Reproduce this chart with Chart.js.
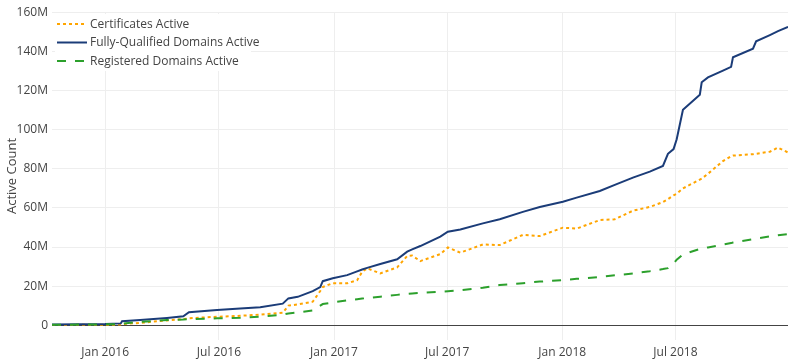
<!DOCTYPE html>
<html>
<head>
<meta charset="utf-8">
<title>Active Count</title>
<script src="https://cdn.jsdelivr.net/npm/chart.js@4.4.1/dist/chart.umd.min.js"></script>
<style>
    html, body { margin: 0; padding: 0; background: #fff; }
    #wrap { width: 800px; height: 363px; position: relative; }
</style>
</head>
<body>
<div id="wrap"><canvas id="activeChart"></canvas></div>
<script>
const dates = [
    '2015-10-08', '2016-01-01', '2016-01-26', '2016-01-28', '2016-02-26', '2016-04-09', '2016-05-05',
    '2016-05-14', '2016-06-28', '2016-08-04', '2016-09-05', '2016-10-11', '2016-10-20', '2016-11-04',
    '2016-11-28', '2016-12-10', '2016-12-14', '2016-12-30', '2017-01-22', '2017-02-07', '2017-02-15',
    '2017-02-23', '2017-03-16', '2017-04-12', '2017-04-28', '2017-05-06', '2017-05-19', '2017-06-20',
    '2017-07-02', '2017-07-22', '2017-08-27', '2017-09-23', '2017-10-30', '2017-11-26', '2018-01-02',
    '2018-01-24', '2018-03-02', '2018-03-26', '2018-04-24', '2018-05-21', '2018-06-11', '2018-06-19',
    '2018-06-28', '2018-07-03', '2018-07-13', '2018-08-09', '2018-08-12', '2018-08-22', '2018-09-15',
    '2018-09-28', '2018-10-01', '2018-11-02', '2018-11-07', '2018-11-29', '2018-12-12', '2018-12-28'
];

// Values in millions
const certificates = [
    0.1, 0.2, 0.3, 0.5, 1.2, 2.4, 3.1,
    3.5, 4.3, 4.8, 5.4, 6.3, 10.0, 10.6,
    12.0, 17.5, 19.5, 21.5, 21.4, 23.0, 27.3,
    29.1, 26.5, 29.6, 35.4, 35.6, 32.8, 36.4,
    39.8, 37.1, 41.3, 41.0, 46.2, 45.6, 49.9,
    49.4, 53.8, 54.2, 58.6, 60.5, 63.0, 64.5,
    66.5, 67.3, 70.0, 74.5, 75.0, 77.5, 84.0,
    86.5, 86.8, 87.5, 87.7, 88.8, 90.9, 88.4
];
const fqdns = [
    0.3, 0.6, 0.9, 2.0, 2.6, 3.7, 4.5,
    6.6, 7.8, 8.5, 9.2, 11.0, 13.7, 14.5,
    17.4, 19.5, 22.5, 24.0, 25.6, 27.5, 28.5,
    29.3, 31.3, 33.7, 37.6, 38.8, 40.5, 45.3,
    47.8, 49.0, 52.1, 54.2, 58.0, 60.5, 63.2,
    65.3, 68.7, 71.8, 75.5, 78.6, 81.5, 87.7,
    90.1, 95.2, 110.3, 118.0, 124.3, 126.8, 130.3,
    132.2, 137.1, 141.5, 145.3, 148.5, 150.5, 152.7
];
const registered = [
    0.2, 0.4, 0.5, 0.8, 1.7, 2.6, 2.9,
    3.1, 3.5, 3.8, 4.4, 5.4, 6.0, 6.5,
    7.5, 10.0, 10.8, 11.6, 12.7, 13.3, 13.6,
    13.9, 14.6, 15.5, 16.0, 16.2, 16.5, 17.1,
    17.4, 17.8, 19.2, 20.5, 21.5, 22.3, 23.0,
    23.7, 24.7, 25.5, 26.4, 27.6, 28.7, 29.2,
    31.5, 33.5, 36.2, 39.0, 39.2, 39.8, 41.2,
    42.0, 42.3, 44.0, 44.3, 45.4, 46.0, 46.6
];

const yTicks = [0, 20, 40, 60, 80, 100, 120, 140, 160];
const xTickDates = ['2016-01-01', '2016-07-01', '2017-01-01', '2017-07-01', '2018-01-01', '2018-07-01'];
const xTickLabels = ['Jan 2016', 'Jul 2016', 'Jan 2017', 'Jul 2017', 'Jan 2018', 'Jul 2018'];

const FONT = '"Open Sans", verdana, arial, sans-serif';
const TEXT = '#444';

const times = dates.map(d => Date.parse(d));
const toPoints = values => values.map((v, i) => ({ x: times[i], y: v }));

// Legend drawn inside the plot, top-left, like the original
const insideLegend = {
    id: 'insideLegend',
    afterDraw(chart) {
        const { ctx, chartArea } = chart;
        const left = chartArea.left + 3;
        const top = chartArea.top + 2;

        ctx.save();
        ctx.fillStyle = '#fff';
        ctx.fillRect(left, top, 196, 57);

        ctx.font = '12px ' + FONT;
        ctx.textBaseline = 'middle';
        chart.data.datasets.forEach((ds, i) => {
            const y = top + 10 + i * 18.5;
            ctx.beginPath();
            ctx.strokeStyle = ds.borderColor;
            ctx.lineWidth = 2;
            ctx.setLineDash(ds.borderDash || []);
            ctx.moveTo(left + 2, y);
            ctx.lineTo(left + 32, y);
            ctx.stroke();
            ctx.setLineDash([]);
            ctx.fillStyle = TEXT;
            ctx.fillText(ds.label, left + 35, y + 0.5);
        });
        ctx.restore();
    }
};

const ctx = document.getElementById('activeChart').getContext('2d');
new Chart(ctx, {
    type: 'line',
    data: {
        datasets: [
            {
                label: 'Certificates Active',
                data: toPoints(certificates),
                borderColor: '#ffa500',
                borderWidth: 2,
                borderDash: [3, 3],
                order: 3
            },
            {
                label: 'Fully-Qualified Domains Active',
                data: toPoints(fqdns),
                borderColor: '#1b3c78',
                borderWidth: 2,
                order: 2
            },
            {
                label: 'Registered Domains Active',
                data: toPoints(registered),
                borderColor: '#2ca02c',
                borderWidth: 2,
                borderDash: [9, 9],
                order: 1
            }
        ]
    },
    options: {
        responsive: true,
        maintainAspectRatio: false,
        animation: false,
        elements: {
            point: { radius: 0 },
            line: { tension: 0, fill: false }
        },
        layout: { padding: { top: 12, right: 12, left: 0, bottom: 0 } },
        plugins: {
            legend: { display: false },
            tooltip: { enabled: false }
        },
        scales: {
            x: {
                type: 'linear',
                min: times[0],
                max: times[times.length - 1],
                afterBuildTicks: axis => {
                    axis.ticks = xTickDates.map(d => ({ value: Date.parse(d) }));
                },
                afterFit: axis => { axis.height = 23; },
                grid: { color: '#eee', drawTicks: false },
                border: { display: false },
                ticks: {
                    padding: 5,
                    maxRotation: 0,
                    autoSkip: false,
                    color: TEXT,
                    font: { family: FONT, size: 12 },
                    callback: value => {
                        const idx = xTickDates.findIndex(d => Date.parse(d) === value);
                        return idx >= 0 ? xTickLabels[idx] : '';
                    }
                }
            },
            y: {
                min: -7.6,
                max: 160.3,
                afterBuildTicks: axis => {
                    axis.ticks = yTicks.map(v => ({ value: v }));
                },
                afterFit: axis => { axis.width = 52; },
                grid: {
                    drawTicks: false,
                    color: c => (c.tick && c.tick.value === 0 ? '#444' : '#eee')
                },
                border: { display: false },
                ticks: {
                    padding: 4,
                    color: TEXT,
                    font: { family: FONT, size: 12 },
                    callback: v => (v === 0 ? '0' : v + 'M')
                },
                title: {
                    display: true,
                    text: 'Active Count',
                    color: TEXT,
                    font: { family: FONT, size: 13 },
                    padding: { top: 4, bottom: 0 }
                }
            }
        }
    },
    plugins: [insideLegend]
});
</script>
</body>
</html>
